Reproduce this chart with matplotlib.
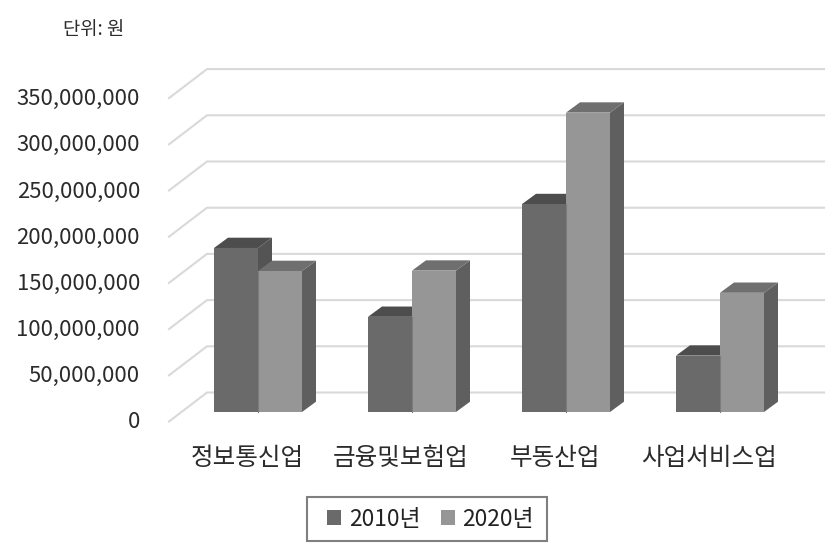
import matplotlib
matplotlib.use('Agg')
import matplotlib.pyplot as plt
from matplotlib.patches import Patch, Polygon, Rectangle

plt.rcParams['font.family'] = ['Noto Sans CJK KR', 'DejaVu Sans']

categories = ['정보통신업', '금융및보험업', '부동산업', '사업서비스업']
years = ['2010년', '2020년']
values_2010 = [177500000, 103000000, 225000000, 61000000]
values_2020 = [152600000, 153000000, 324000000, 129000000]
y_ticks = [0, 50000000, 100000000, 150000000, 200000000, 250000000, 300000000, 350000000]

FIG_W, FIG_H = 837, 555
X0_PX, CAT_PX = 258, 154     # pixel of first category centre, pixels per category
Y0_PX, UNIT_PX = 412, 46.2 / 50000000     # pixel of value 0, pixels per won


def dx(px):
    return px / CAT_PX


def dy(px):
    return px / UNIT_PX


def draw_bar(ax, x, width, val, front, top, side):
    depth_x, depth_y = dx(14), dy(10.3)
    ax.add_patch(Polygon([(x + width, 0), (x + width + depth_x, depth_y),
                          (x + width + depth_x, val + depth_y), (x + width, val)],
                         fc=side, ec='none', zorder=3))
    ax.add_patch(Polygon([(x, val), (x + depth_x, val + depth_y),
                          (x + width + depth_x, val + depth_y), (x + width, val)],
                         fc=top, ec='none', zorder=3))
    ax.add_patch(Rectangle((x, 0), width, val, fc=front, ec='none', zorder=3))


fig = plt.figure(figsize=(FIG_W / 100, FIG_H / 100), dpi=100)
ax = fig.add_axes([0, 0, 1, 1])
ax.set_xlim(-X0_PX / CAT_PX, (FIG_W - X0_PX) / CAT_PX)
ax.set_ylim((Y0_PX - FIG_H) / UNIT_PX, Y0_PX / UNIT_PX)
ax.axis('off')

# gridlines: slanted piece on the side wall, then straight along the back wall
front_x, wall_x, right_x = dx(169 - X0_PX), dx(207 - X0_PX), dx(824 - X0_PX)
for t in y_ticks:
    ax.plot([front_x, wall_x, right_x], [t - dy(9.5), t + dy(19.5), t + dy(19.5)],
            color='#d9d9d9', lw=1.5, zorder=1, solid_joinstyle='miter')
    ax.annotate(f'{t:,}', (front_x, t - dy(9.5)), xytext=(-29, -1), textcoords='offset pixels',
                ha='right', va='center', fontsize=15.9, color='#2b2b2b')

bar_w = dx(44)
for i, cat in enumerate(categories):
    draw_bar(ax, i - bar_w, bar_w, values_2010[i], '#6a6a6a', '#4d4d4d', '#545454')
    draw_bar(ax, i, bar_w, values_2020[i], '#969696', '#6f6f6f', '#5f5f5f')
    ax.plot([i, i], [0, min(values_2010[i], values_2020[i])], color='#7d7d7d', lw=0.8, zorder=4)
    ax.annotate(cat, (i, 0), xytext=(-11, -46), textcoords='offset pixels',
                ha='center', va='center', fontsize=17.7, color='#2b2b2b')

ax.text(94 / FIG_W, 1 - 30 / FIG_H, '단위: 원', transform=ax.transAxes,
        ha='center', va='center', fontsize=13.5, color='#2b2b2b')

# legend box drawn apart from the entries, its padding is uneven in the original
ax.add_patch(Rectangle((307 / FIG_W, 1 - 541 / FIG_H), 240 / FIG_W, 44 / FIG_H, transform=ax.transAxes,
                       fc='white', ec='#7f7f7f', lw=1.5, zorder=5))
handles = [Patch(fc='#6a6a6a', ec='none'), Patch(fc='#969696', ec='none')]
leg = ax.legend(handles, years, loc='center', bbox_to_anchor=(430.5 / FIG_W, 1 - 519 / FIG_H),
                bbox_transform=ax.transAxes, ncol=2, fontsize=16.4, frameon=False,
                handlelength=0.62, handleheight=0.62, handletextpad=0.32, columnspacing=0.9,
                borderpad=0, labelcolor='#222222')
leg.set_zorder(6)

fig.savefig('out.png', dpi=100)
